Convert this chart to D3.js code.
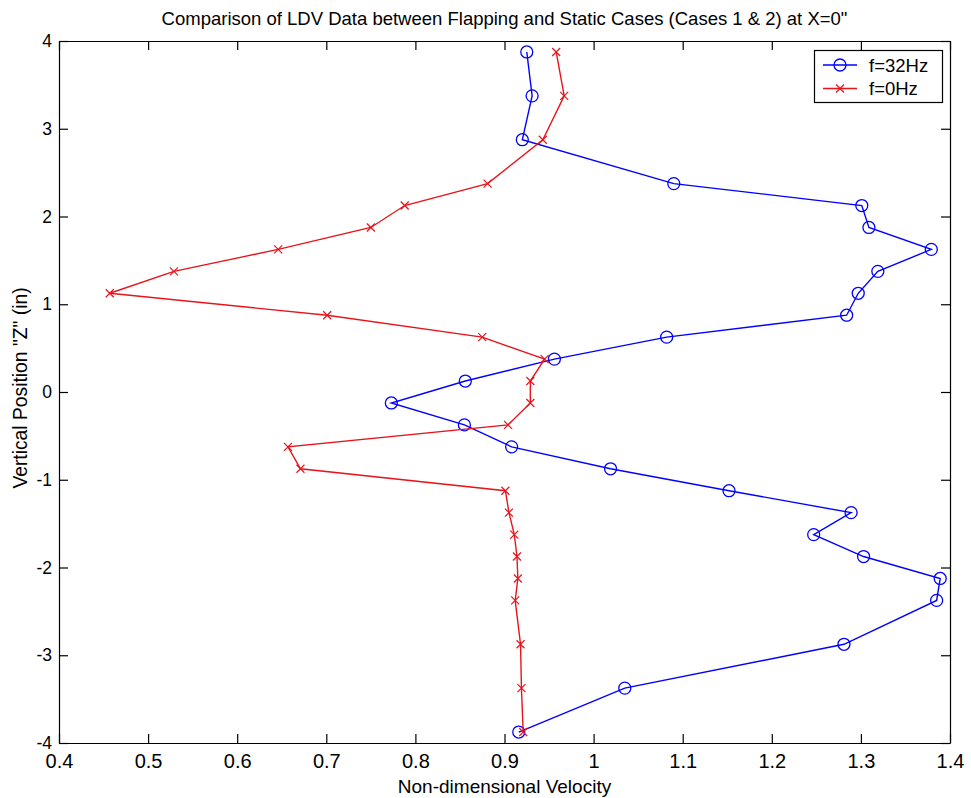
<!DOCTYPE html>
<html>
<head>
<meta charset="utf-8">
<script src="https://cdn.jsdelivr.net/npm/d3@7"></script>
<style>
  html, body { margin: 0; padding: 0; background: #ffffff; }
  svg text { font-family: Arial, "Liberation Sans", Helvetica, sans-serif; fill: #000; }
</style>
</head>
<body>
<svg id="chart" width="971" height="798"></svg>
<script>
// Vertical measurement stations (in), shared by both cases
const zPositions = [3.875, 3.375, 2.875, 2.375, 2.125, 1.875, 1.625, 1.375, 1.125, 0.875,
  0.625, 0.375, 0.125, -0.125, -0.375, -0.625, -0.875, -1.125, -1.375, -1.625,
  -1.875, -2.125, -2.375, -2.875, -3.375, -3.875];

// Non-dimensional velocity, flapping case (f = 32 Hz)
const flapping32 = [0.925, 0.931, 0.920, 1.090, 1.301, 1.309, 1.379, 1.319, 1.297, 1.284,
  1.082, 0.956, 0.856, 0.773, 0.855, 0.908, 1.019, 1.152, 1.289, 1.247,
  1.303, 1.389, 1.385, 1.281, 1.035, 0.916];

// Non-dimensional velocity, static case (f = 0 Hz)
const static0 = [0.958, 0.967, 0.943, 0.881, 0.788, 0.750, 0.646, 0.529, 0.457, 0.701,
  0.875, 0.945, 0.929, 0.929, 0.904, 0.657, 0.671, 0.901, 0.905, 0.911,
  0.914, 0.915, 0.912, 0.918, 0.919, 0.921];

const seriesNames = ["f=32Hz", "f=0Hz"];
const xTicks = [0.4, 0.5, 0.6, 0.7, 0.8, 0.9, 1, 1.1, 1.2, 1.3, 1.4];
const yTicks = [-4, -3, -2, -1, 0, 1, 2, 3, 4];

const titleText = "Comparison of LDV Data between Flapping and Static Cases (Cases 1 & 2) at X=0\"";
const xLabelText = "Non-dimensional Velocity";
const yLabelText = "Vertical Position \"Z\" (in)";

const svg = d3.select("#chart");
const plot = { left: 59, right: 950, top: 41, bottom: 743 };

const x = d3.scaleLinear().domain([0.4, 1.4]).range([plot.left, plot.right]);
const y = d3.scaleLinear().domain([-4, 4]).range([plot.bottom, plot.top]);

const tickLen = 9;
// plain ASCII hyphen for negative tick labels
const plainFormat = d => String(d);

// Frame with inward ticks on all four sides
const axisBottom = d3.axisBottom(x).tickValues(xTicks).tickSizeInner(-tickLen).tickSizeOuter(0)
  .tickPadding(11).tickFormat(plainFormat);
const axisTop = d3.axisTop(x).tickValues(xTicks).tickSizeInner(-tickLen).tickSizeOuter(0).tickFormat("");
const axisLeft = d3.axisLeft(y).tickValues(yTicks).tickSizeInner(-tickLen).tickSizeOuter(0)
  .tickPadding(7).tickFormat(plainFormat);
const axisRight = d3.axisRight(y).tickValues(yTicks).tickSizeInner(-tickLen).tickSizeOuter(0).tickFormat("");

function styleAxis(size) {
  return g => {
    g.select(".domain").attr("stroke", "#000").attr("stroke-width", 1.2);
    g.selectAll(".tick line").attr("stroke", "#000").attr("stroke-width", 1.2);
    g.selectAll(".tick text").attr("font-size", size).attr("font-family", null);
  };
}

svg.append("g").attr("transform", `translate(0,${plot.bottom})`).call(axisBottom).call(styleAxis(20));
svg.append("g").attr("transform", `translate(0,${plot.top})`).call(axisTop).call(styleAxis(20));
svg.append("g").attr("transform", `translate(${plot.left},0)`).call(axisLeft).call(styleAxis(17.5));
svg.append("g").attr("transform", `translate(${plot.right},0)`).call(axisRight).call(styleAxis(17.5));

// Titles
svg.append("text").attr("x", (plot.left + plot.right) / 2).attr("y", 25)
  .attr("text-anchor", "middle").attr("font-size", 18.5).text(titleText);
svg.append("text").attr("x", (plot.left + plot.right) / 2).attr("y", 793)
  .attr("text-anchor", "middle").attr("font-size", 19).text(xLabelText);
svg.append("text").attr("transform", `translate(27,388) rotate(-90)`)
  .attr("text-anchor", "middle").attr("font-size", 19.3).text(yLabelText);

const blue = "#0000ff";
const red = "#e8141c";

const line = d3.line().x(d => x(d.v)).y(d => y(d.z));
const flapData = zPositions.map((z, i) => ({ z, v: flapping32[i] }));
const staticData = zPositions.map((z, i) => ({ z, v: static0[i] }));

const layer = svg.append("g");

function drawCircle(g, cx, cy, color) {
  g.append("circle").attr("cx", cx).attr("cy", cy).attr("r", 6)
    .attr("fill", "none").attr("stroke", color).attr("stroke-width", 1.3);
}
function drawCross(g, cx, cy, color) {
  const s = 4;
  g.append("path").attr("d", `M${cx - s},${cy - s}L${cx + s},${cy + s}M${cx - s},${cy + s}L${cx + s},${cy - s}`)
    .attr("stroke", color).attr("stroke-width", 1.2).attr("fill", "none");
}

layer.append("path").datum(flapData).attr("d", line)
  .attr("fill", "none").attr("stroke", blue).attr("stroke-width", 1.4);
flapData.forEach(d => drawCircle(layer, x(d.v), y(d.z), blue));

layer.append("path").datum(staticData).attr("d", line)
  .attr("fill", "none").attr("stroke", red).attr("stroke-width", 1.4);
staticData.forEach(d => drawCross(layer, x(d.v), y(d.z), red));

// Legend
const legend = svg.append("g");
legend.append("rect").attr("x", 814.5).attr("y", 50.5).attr("width", 128).attr("height", 52)
  .attr("fill", "#fff").attr("stroke", "#000").attr("stroke-width", 1.2);
const rows = [
  { name: seriesNames[0], color: blue, marker: drawCircle },
  { name: seriesNames[1], color: red, marker: drawCross }
];
rows.forEach((r, i) => {
  const cy = 65 + i * 23.5;
  legend.append("line").attr("x1", 823).attr("x2", 857).attr("y1", cy).attr("y2", cy)
    .attr("stroke", r.color).attr("stroke-width", 1.4);
  r.marker(legend, 840, cy, r.color);
  legend.append("text").attr("x", 869).attr("y", cy + 6.5).attr("font-size", 18.5).text(r.name);
});
</script>
</body>
</html>
